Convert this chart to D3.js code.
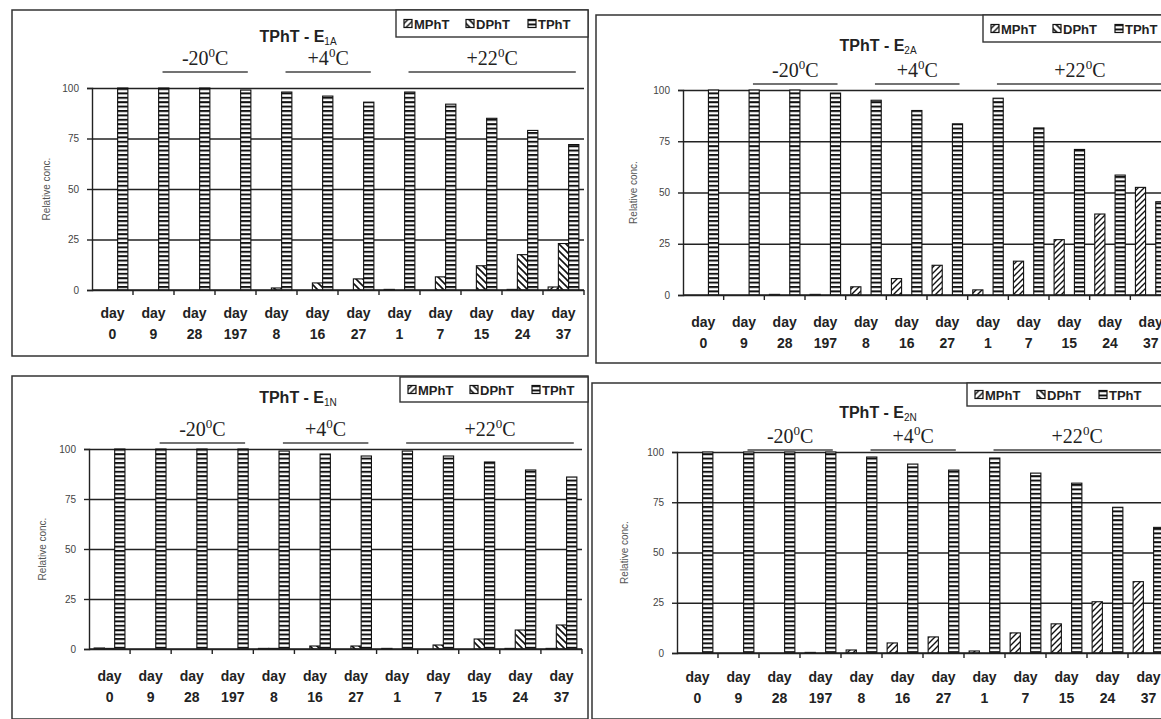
<!DOCTYPE html>
<html>
<head>
<meta charset="utf-8">
<script src="https://cdn.jsdelivr.net/npm/d3@7"></script>
<style>
  body { margin: 0; background: #fff; }
  text { font-family: Arial, "Liberation Sans", sans-serif; }
</style>
</head>
<body>
<div id="chart"></div>
<script>
// categories (sampling day) and series
const days = ["0", "9", "28", "197", "8", "16", "27", "1", "7", "15", "24", "37"];
const series = ["MPhT", "DPhT", "TPhT"];
const yTicks = [0, 25, 50, 75, 100];
const temps = ["-20", "+4", "+22"];
const tempSpans = [[1, 3], [4, 6], [7, 11]]; // first/last category under each temperature

// E1A
const e1aM = [0, 0, 0, 0, 0, 0, 0, 0.3, 0, 0, 0.3, 1.5];
const e1aD = [0, 0, 0, 0, 1, 3.5, 5.5, 0, 6.5, 12, 17.5, 23];
const e1aT = [100, 100, 100, 99, 98, 96, 93, 98, 92, 85, 79, 72];
// E2A
const e2aM = [0, 0, 0.3, 0.3, 4, 8, 14.5, 2.5, 16.5, 27, 39.5, 52.5];
const e2aD = [0, 0, 0, 0, 0, 0, 0, 0, 0, 0, 0, 0];
const e2aT = [100, 100, 100, 98.5, 95, 90, 83.5, 96, 81.5, 71, 58.5, 45.5];
// E1N
const e1nM = [0.5, 0, 0, 0, 0.3, 0, 0, 0.3, 0, 0, 0.3, 0.3];
const e1nD = [0.3, 0, 0, 0, 0.3, 1.5, 1.5, 0, 2, 5, 9.5, 12];
const e1nT = [100, 100, 100, 100, 99, 97.5, 96.5, 99, 96.5, 93.5, 89.5, 86];
// E2N
const e2nM = [0, 0, 0, 0.3, 1.5, 5, 8, 1, 10, 14.5, 25.5, 35.5];
const e2nD = [0, 0, 0, 0, 0, 0, 0, 0, 0, 0, 0, 0];
const e2nT = [100, 100, 100, 100, 97.5, 94, 91, 97, 89.5, 84.5, 72.5, 62.5];

const panels = [
  { sub: "1A", vals: [e1aM, e1aD, e1aT], frame: [12, 10, 576, 346], x0: 92, x1: 584, yTop: 88, yBot: 290,
    titleX: 298, titleY: 42, tempY: 65, lineY: 72, legend: [396, 10, 192, 27], dayY: 318, ylabX: 50 },
  { sub: "2A", vals: [e2aM, e2aD, e2aT], frame: [596, 15, 600, 348], x0: 683, x1: 1171, yTop: 90, yBot: 295,
    titleX: 878, titleY: 51, tempY: 77, lineY: 84, legend: [983, 15, 200, 27], dayY: 327, ylabX: 637 },
  { sub: "1N", vals: [e1nM, e1nD, e1nT], frame: [12, 376, 576, 343], x0: 89, x1: 582, yTop: 449, yBot: 649,
    titleX: 298, titleY: 403, tempY: 436, lineY: 443, legend: [400, 377, 188, 25], dayY: 681, ylabX: 46 },
  { sub: "2N", vals: [e2nM, e2nD, e2nT], frame: [592, 383, 600, 336], x0: 677, x1: 1169, yTop: 452, yBot: 653,
    titleX: 878, titleY: 418, tempY: 443, lineY: 450, legend: [967, 383, 200, 23], dayY: 682, ylabX: 628 }
];

const svg = d3.select("#chart")
  .append("svg")
  .attr("width", 1161)
  .attr("height", 719);

// fill patterns
const defs = svg.append("defs");
const pT = defs.append("pattern").attr("id", "pat-T")
  .attr("patternUnits", "userSpaceOnUse").attr("width", 8).attr("height", 4.4);
pT.append("rect").attr("width", 8).attr("height", 4.4).attr("fill", "#fff");
pT.append("rect").attr("width", 8).attr("height", 2).attr("fill", "#111");

const pM = defs.append("pattern").attr("id", "pat-M")
  .attr("patternUnits", "userSpaceOnUse").attr("width", 6).attr("height", 6);
pM.append("rect").attr("width", 6).attr("height", 6).attr("fill", "#fff");
pM.append("path").attr("d", "M0,6 L6,0 M-1,1 L1,-1 M5,7 L7,5")
  .attr("stroke", "#111").attr("stroke-width", 1.4);

const pD = defs.append("pattern").attr("id", "pat-D")
  .attr("patternUnits", "userSpaceOnUse").attr("width", 7).attr("height", 7);
pD.append("rect").attr("width", 7).attr("height", 7).attr("fill", "#fff");
pD.append("path").attr("d", "M0,0 L7,7 M-1,6 L1,8 M6,-1 L8,1")
  .attr("stroke", "#111").attr("stroke-width", 1.6);

const fills = { MPhT: "url(#pat-M)", DPhT: "url(#pat-D)", TPhT: "url(#pat-T)" };

panels.forEach(function(p) {
  const g = svg.append("g");

  // outer frame
  g.append("rect")
    .attr("x", p.frame[0]).attr("y", p.frame[1])
    .attr("width", p.frame[2]).attr("height", p.frame[3])
    .attr("fill", "none").attr("stroke", "#333").attr("stroke-width", 1.5);

  const x = d3.scaleBand().domain(days).range([p.x0, p.x1]);
  const xs = d3.scaleBand().domain(series).range([0, x.bandwidth()]).paddingOuter(0.5);
  const y = d3.scaleLinear().domain([0, 100]).range([p.yBot, p.yTop]);

  // grid lines
  g.append("g")
    .attr("transform", `translate(${p.x0}, 0)`)
    .call(d3.axisLeft(y).tickValues(yTicks).tickSize(-(p.x1 - p.x0)).tickFormat(""))
    .call(a => a.select(".domain").remove())
    .selectAll("line").attr("stroke", "#222").attr("stroke-width", 1.4);

  // y axis
  const ya = g.append("g")
    .attr("transform", `translate(${p.x0}, 0)`)
    .call(d3.axisLeft(y).tickValues(yTicks).tickSize(5).tickPadding(8));
  ya.select(".domain").attr("stroke", "#222").attr("stroke-width", 1.4);
  ya.selectAll("line").attr("stroke", "#222").attr("stroke-width", 1.4);
  ya.selectAll("text").attr("font-size", 10).attr("fill", "#444").style("font-family", "Arial");

  // bars
  series.forEach(function(s, si) {
    g.append("g").selectAll("rect")
      .data(p.vals[si].map((v, i) => ({ day: days[i], v: v })))
      .join("rect")
        .attr("x", d => x(d.day) + xs(s))
        .attr("y", d => y(d.v))
        .attr("width", xs.bandwidth())
        .attr("height", d => y(0) - y(d.v))
        .attr("fill", fills[s])
        .attr("stroke", "#111")
        .attr("stroke-width", d => d.v > 0 ? 1.1 : 0);
  });

  // x axis line with ticks between categories
  g.append("line")
    .attr("x1", p.x0).attr("x2", p.x1).attr("y1", y(0)).attr("y2", y(0))
    .attr("stroke", "#222").attr("stroke-width", 1.6);
  g.append("g").selectAll("line")
    .data(days.slice(1).map(d => x(d)).concat([p.x1]))
    .join("line")
      .attr("x1", d => d).attr("x2", d => d)
      .attr("y1", y(0)).attr("y2", y(0) + 5)
      .attr("stroke", "#222").attr("stroke-width", 1.4);

  // category labels
  const lab = g.append("g").selectAll("text")
    .data(days)
    .join("text")
      .attr("x", d => x(d) + x.bandwidth() / 2)
      .attr("y", p.dayY)
      .attr("text-anchor", "middle")
      .attr("font-size", 14)
      .attr("font-weight", "bold")
      .attr("fill", "#222");
  lab.append("tspan").attr("x", d => x(d) + x.bandwidth() / 2).text("day");
  lab.append("tspan").attr("x", d => x(d) + x.bandwidth() / 2).attr("dy", 21).text(d => d);

  // y axis title
  g.append("text")
    .attr("transform", `translate(${p.ylabX}, ${(p.yTop + p.yBot) / 2}) rotate(-90)`)
    .attr("text-anchor", "middle")
    .attr("font-size", 10)
    .attr("fill", "#555")
    .text("Relative conc.");

  // chart title
  const t = g.append("text")
    .attr("x", p.titleX).attr("y", p.titleY)
    .attr("text-anchor", "middle")
    .attr("font-size", 16)
    .attr("font-weight", "bold")
    .attr("fill", "#222");
  t.append("tspan").text("TPhT - E");
  t.append("tspan").attr("font-size", 10).attr("font-weight", "normal").attr("dy", 3).text(p.sub);

  // temperature groups
  temps.forEach(function(tl, ti) {
    const a = x(days[tempSpans[ti][0]]) + x.bandwidth() * 0.72;
    const b = x(days[tempSpans[ti][1]]) + x.bandwidth() * 0.8;
    g.append("line")
      .attr("x1", a).attr("x2", b).attr("y1", p.lineY).attr("y2", p.lineY)
      .attr("stroke", "#444").attr("stroke-width", 1.6);
    const tt = g.append("text")
      .attr("x", (a + b) / 2).attr("y", p.tempY)
      .attr("text-anchor", "middle")
      .attr("font-size", 20)
      .attr("fill", "#222")
      .style("font-family", "'Liberation Serif', 'Times New Roman', serif");
    tt.append("tspan").text(tl);
    tt.append("tspan").attr("font-size", 13).attr("dy", -8).text("0");
    tt.append("tspan").attr("dy", 8).text("C");
  });

  // legend
  const lg = g.append("g").attr("transform", `translate(${p.legend[0]}, ${p.legend[1]})`);
  lg.append("rect")
    .attr("width", p.legend[2]).attr("height", p.legend[3])
    .attr("fill", "#fff").attr("stroke", "#333").attr("stroke-width", 1.4);
  series.forEach(function(s, si) {
    const it = lg.append("g").attr("transform", `translate(${8 + si * 62}, ${p.legend[3] / 2})`);
    it.append("rect").attr("x", 0).attr("y", -4).attr("width", 8).attr("height", 8)
      .attr("fill", fills[s]).attr("stroke", "#111").attr("stroke-width", 1.2);
    it.append("text").attr("x", 10).attr("y", 5)
      .attr("font-size", 13).attr("font-weight", "bold").attr("fill", "#222")
      .text(s);
  });
});
</script>
</body>
</html>
